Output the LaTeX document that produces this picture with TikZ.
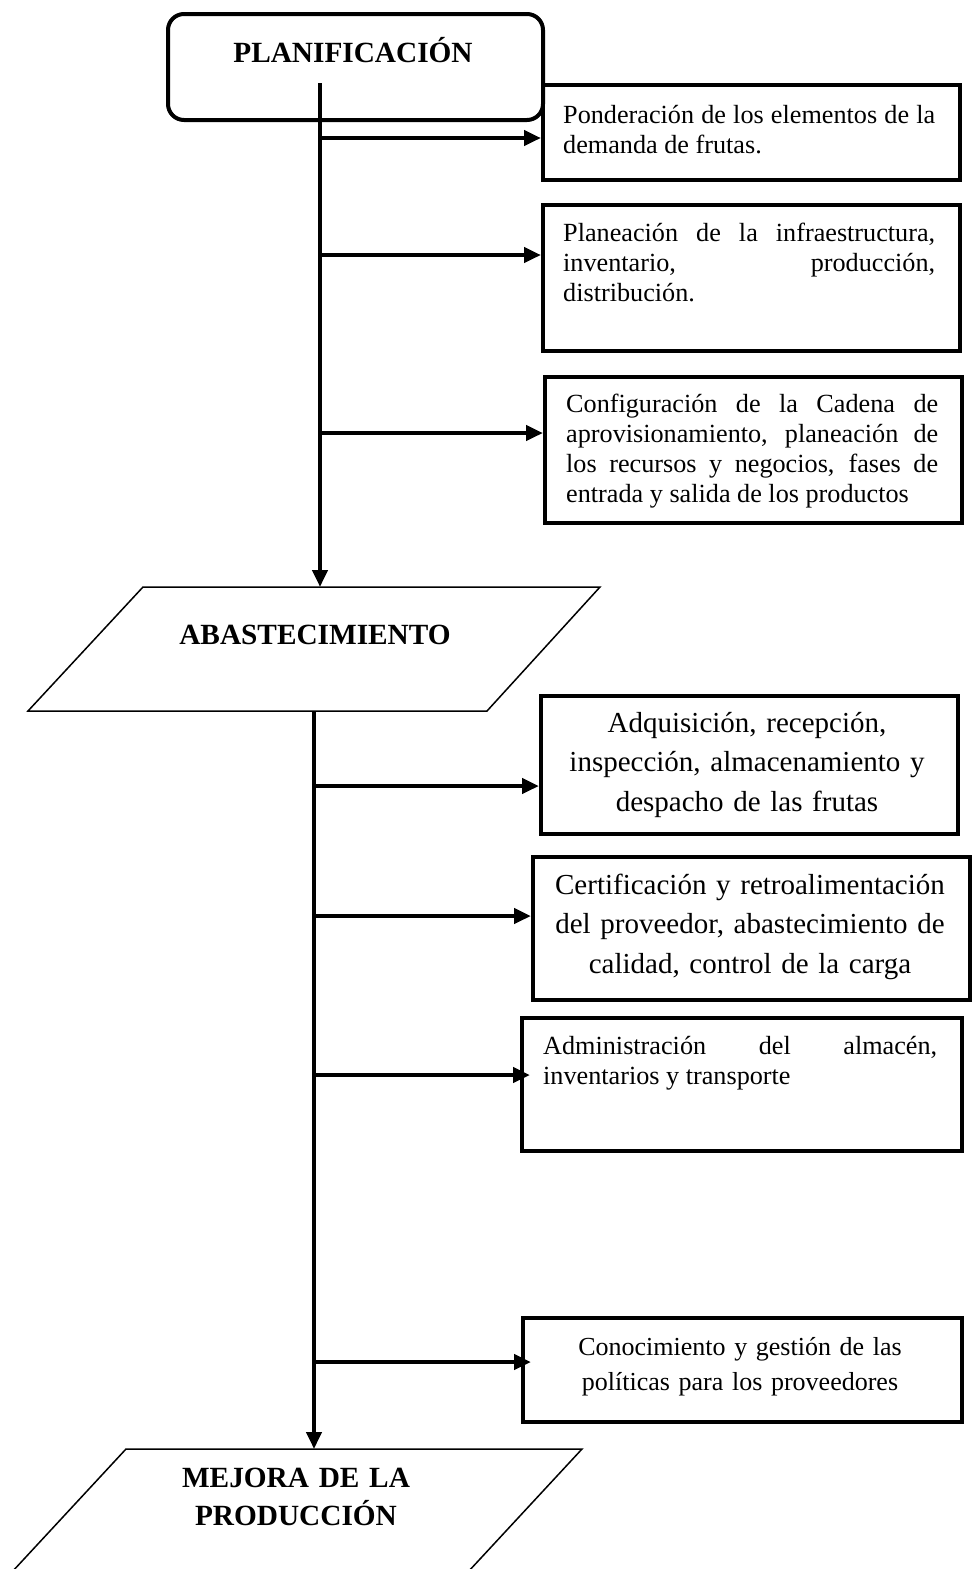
\documentclass[tikz,border=0pt]{standalone}
\usepackage{fontspec}
\setmainfont{Liberation Serif}
\usetikzlibrary{arrows.meta}
\usetikzlibrary{positioning}

\begin{document}
\begin{tikzpicture}[x=1pt,y=-1pt,
  caja/.style={draw,line width=4pt,anchor=north west,inner sep=0pt},
  texto/.style={anchor=base west,inner sep=0pt,text width=372pt,align=justify,font=\fontsize{26.2}{30}\selectfont},
  textoc/.style={anchor=base,inner sep=0pt,text width=420pt,align=center,font=\fontsize{26}{35}\selectfont},
  textog/.style={anchor=base,inner sep=0pt,text width=420pt,align=center,font=\fontsize{29}{39.5}\selectfont},
  titulo/.style={anchor=base,inner sep=0pt,text width=420pt,align=center,font=\fontsize{29.3}{38}\selectfont\bfseries},
  flecha/.style={line width=4.5pt,-{Triangle[length=17pt,width=15pt]}},
  paral/.style={draw,line width=1.5pt}]
\useasboundingbox (0,0) rectangle (972,1569);
\clip (0,0) rectangle (972,1569);

% planificacion
\node[caja,rounded corners=16pt,minimum width=375pt,minimum height=106pt] (plan) at (166,12) {};
\node[titulo] (tplan) at (353,62) {PLANIFICACIÓN};

\node[caja,minimum width=417pt,minimum height=95pt] (b1) at (541,83) {};
\node[caja,minimum width=417pt,minimum height=146pt] (b2) at (541,203) {};
\node[caja,minimum width=417pt,minimum height=146pt] (b3) at (543,375) {};
\node[texto] (t1) at (563,123) {Ponderación de los elementos de la\linebreak demanda de frutas.};
\node[texto] (t2) at (563,241) {Planeación de la infraestructura,\linebreak inventario, producción,\linebreak distribución.};
\node[texto] (t3) at (566,412) {Configuración de la Cadena de\linebreak aprovisionamiento, planeación de\linebreak los recursos y negocios, fases de\linebreak entrada y salida de los productos};

% abastecimiento
\draw[paral] (143,587) -- (600,587) -- (487,711) -- (28,711) -- cycle;
\node[titulo] (tabas) at (315,644) {ABASTECIMIENTO};
\coordinate (abasN) at (320,587);
\coordinate (abasS) at (314,711);

\node[caja,minimum width=417pt,minimum height=138pt] (b4) at (539,694) {};
\node[caja,minimum width=437pt,minimum height=143pt] (b5) at (531,855) {};
\node[caja,minimum width=440pt,minimum height=133pt] (b6) at (520,1016) {};
\node[caja,minimum width=439pt,minimum height=104pt] (b7) at (521,1316) {};
\node[textog] (t4) at (747,732) {Adquisición, recepción,\\ inspección, almacenamiento y\\ despacho de las frutas};
\node[textog] (t5) at (750,894) {Certificación y retroalimentación\\ del proveedor, abastecimiento de\\ calidad, control de la carga};
\node[texto,text width=394pt] (t6) at (543,1054) {Administración del almacén,\linebreak inventarios y transporte};
\node[textoc] (t7) at (740,1355) {Conocimiento y gestión de las\\ políticas para los proveedores};

% mejora
\draw[paral] (126,1449) -- (582,1449) -- (442,1600) -- (-14,1600) -- cycle;
\node[titulo] (tmej) at (296,1487) {MEJORA DE LA\\ PRODUCCIÓN};
\coordinate (mejN) at (314,1449);

% lineas
\coordinate (plan1) at (320,83);
\coordinate (r1) at (320,138);
\coordinate (r2) at (320,255);
\coordinate (r3) at (320,433);
\coordinate (r4) at (314,786);
\coordinate (r5) at (314,916);
\coordinate (r6) at (314,1075);
\coordinate (r7) at (314,1362);

\path
(plan1) edge[flecha] (abasN)
(abasS) edge[flecha] (mejN)
(r1) edge[flecha] (r1 -| b1.west)
(r2) edge[flecha] (r2 -| b2.west)
(r3) edge[flecha] (r3 -| b3.west)
(r4) edge[flecha] (r4 -| b4.west)
(r5) edge[flecha] (r5 -| b5.west)
(r6) edge[flecha,shorten >=-10pt] (r6 -| b6.west)
(r7) edge[flecha,shorten >=-10pt] (r7 -| b7.west);
\end{tikzpicture}
\end{document}
